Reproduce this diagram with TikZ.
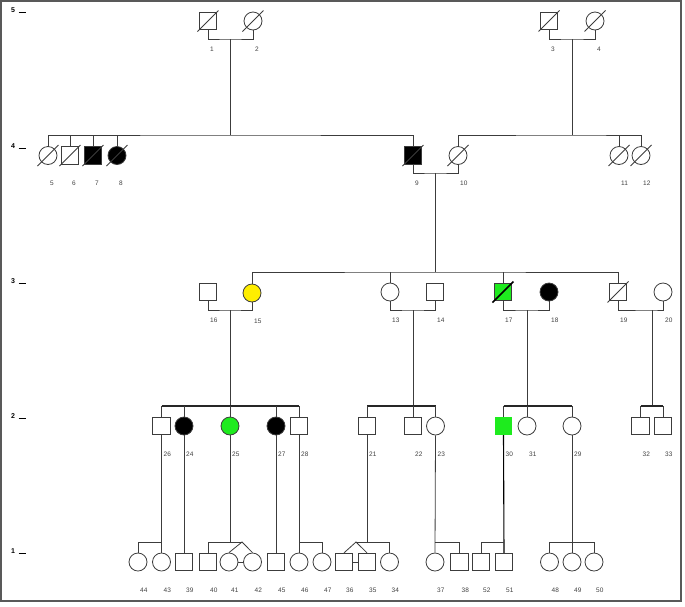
\documentclass[tikz,border=0pt]{standalone}
\usepackage{fontspec}
\setmainfont{Liberation Sans}
\usetikzlibrary{calc,positioning}
\definecolor{pedyellow}{RGB}{255,238,0}
\definecolor{pedgreen}{RGB}{30,235,30}
\definecolor{pedline}{RGB}{60,60,60}

\begin{document}
\begin{tikzpicture}[
    x=1pt, y=-1pt,
    male/.style={rectangle, draw=pedline, line width=0.8pt, minimum size=17.5pt, inner sep=0pt},
    female/.style={circle, draw=pedline, line width=0.8pt, minimum size=18pt, inner sep=0pt},
    affected/.style={fill=black},
    rel/.style={draw=pedline, line width=0.8pt},
    sib/.style={draw=black!85, line width=1.3pt},
    lbl/.style={anchor=west, inner sep=0pt, font=\fontsize{6.5}{7}\selectfont, text=black!75},
    genlbl/.style={anchor=base west, inner sep=0pt, font=\fontsize{7}{8}\selectfont\bfseries}
]
\useasboundingbox (0,0) rectangle (685,606);
\draw[black!65, line width=1.5pt] (1,1) rectangle (681,601);

% Generation markers
\foreach \g/\y in {5/12.5,4/148,3/283,2/418,1/553}
  \node[genlbl] (gen\g) at (11,\y) {\g\hspace{3.5pt}\rule{7pt}{0.5pt}};

% Generation V
\node[male] (n1) at (208,21) {};
\node[female] (n2) at (253,21) {};
\node[male] (n3) at (549,21) {};
\node[female] (n4) at (595,21) {};

% Generation IV
\node[female] (n5) at (48,155.5) {};
\node[male] (n6) at (70,155.5) {};
\node[male, affected] (n7) at (93,155.5) {};
\node[female, affected] (n8) at (117,155.5) {};
\node[male, affected] (n9) at (413,155.5) {};
\node[female] (n10) at (458,155.5) {};
\node[female] (n11) at (619,155.5) {};
\node[female] (n12) at (641,155.5) {};

% Generation III
\node[male] (n16) at (208,292) {};
\node[female, fill=pedyellow] (n15) at (252,293) {};
\node[female] (n13) at (390,292) {};
\node[male] (n14) at (435,292) {};
\node[male, fill=pedgreen] (n17) at (503,292) {};
\node[female, affected] (n18) at (549,292) {};
\node[male] (n19) at (618,292) {};
\node[female] (n20) at (663,292) {};

% Generation II
\node[male] (n26) at (161.5,426) {};
\node[female, affected] (n24) at (184,426) {};
\node[female, fill=pedgreen] (n25) at (230,426) {};
\node[female, affected] (n27) at (276,426) {};
\node[male] (n28) at (299,426) {};
\node[male] (n21) at (367,426) {};
\node[male] (n22) at (413,426) {};
\node[female] (n23) at (435.5,426) {};
\node[male, fill=pedgreen, draw=none] (n30) at (503.5,426) {};
\node[female] (n31) at (527,426) {};
\node[female] (n29) at (572,426) {};
\node[male] (n32) at (640.5,426) {};
\node[male] (n33) at (663,426) {};

% Generation I
\node[female] (n44) at (138,562) {};
\node[female] (n43) at (161.5,562) {};
\node[male] (n39) at (184,562) {};
\node[male] (n40) at (208,562) {};
\node[female] (n41) at (229,562) {};
\node[female] (n42) at (252.5,562) {};
\node[male] (n45) at (276,562) {};
\node[female] (n46) at (299,562) {};
\node[female] (n47) at (322,562) {};
\node[male] (n36) at (344,562) {};
\node[male] (n35) at (367,562) {};
\node[female] (n34) at (389.5,562) {};
\node[female] (n37) at (435,562) {};
\node[male] (n38) at (459.5,562) {};
\node[male] (n52) at (481,562) {};
\node[male] (n51) at (504,562) {};
\node[female] (n48) at (549.5,562) {};
\node[female] (n49) at (572,562) {};
\node[female] (n50) at (594,562) {};

% Numbers
\foreach \n in {1,...,52}
  \node[lbl] (lab\n) at ($(n\n)+(2,28)$) {\n};

% Deceased
\foreach \d in {n1,n2,n3,n4,n5,n6,n7,n8,n9,n10,n11,n12,n19}
  \draw[rel] ($(\d)+(-10.5,10.5)$) -- ($(\d)+(10.5,-10.5)$);
\draw[black, line width=1.6pt] ($(n17)+(-10.5,10.5)$) -- ($(n17)+(10.5,-10.5)$);

% Marriages
\coordinate (m1) at (230,39);
\coordinate (m3) at (572,39);
\coordinate (m9) at (435,173);
\coordinate (m16) at (230,310);
\coordinate (m13) at (413,310);
\coordinate (m17) at (527,310);
\coordinate (m19) at (652,310);
\draw[rel] (n1.south) |- (m1) -| (n2.south);
\draw[rel] (n3.south) |- (m3) -| (n4.south);
\draw[rel] (n9.south) |- (m9) -| (n10.south);
\draw[rel] (n16.south) |- (m16) -| (n15.south);
\draw[rel] (n13.south) |- (m13) -| (n14.south);
\draw[rel] (n17.south) |- (m17) -| (n18.south);
\draw[rel] (n19.south) |- (m19) -| (n20.south);

% Sibships, generation IV
\coordinate (s1) at (230,135);
\coordinate (s3) at (572,135);
\draw[rel] (m1) -- (s1);
\draw[rel] (n5.north) |- (s1) -| (n9.north);
\foreach \c in {n6,n7,n8}
  \draw[rel] (\c.north) -- (\c.north |- s1);
\draw[rel] (m3) -- (s3);
\draw[rel] (n10.north) |- (s3) -| (n12.north);
\draw[rel] (n11.north) -- (n11.north |- s3);

% Sibship, generation III
\coordinate (s9) at (435,272);
\draw[rel] (m9) -- (s9);
\draw[rel] (n15.north) |- (s9) -| (n19.north);
\foreach \c in {n13,n17}
  \draw[rel] (\c.north) -- (\c.north |- s9);

% Sibships, generation II
\coordinate (s16) at (230,406);
\coordinate (s13) at (413,406);
\coordinate (s17) at (527,406);
\coordinate (s19) at (652,406);
\draw[rel] (m16) -- (s16);
\draw[rel] (m13) -- (s13);
\draw[rel] (m17) -- (s17);
\draw[rel] (m19) -- (s19);
\draw[sib] (n26.north |- s16) -- (n28.north |- s16);
\draw[sib] (n21.north |- s13) -- (n23.north |- s13);
\draw[sib] (n30.north |- s17) -- (n29.north |- s17);
\draw[sib] (n32.north |- s19) -- (n33.north |- s19);
\foreach \c/\s in {n26/s16,n24/s16,n25/s16,n27/s16,n28/s16,n21/s13,n22/s13,n23/s13,n30/s17,n31/s17,n29/s17,n32/s19,n33/s19}
  \draw[rel] (\c.north) -- (\c.north |- \s);

% Sibships, generation I
\coordinate (s26) at (161.5,542);
\coordinate (t41) at (242,542);
\coordinate (s28) at (299,542);
\coordinate (t35) at (356,542);
\coordinate (s21) at (367,542);
\coordinate (s23) at (435,542);
\coordinate (s30) at (504,542);
\coordinate (s29) at (572,542);
\draw[rel] (n26.south) -- (n43.north);
\draw[rel] (n44.north) |- (s26);
\draw[rel] (n24.south) -- (n39.north);
\draw[rel] (n25.south) -- (n25.south |- t41);
\draw[rel] (n40.north) |- (t41);
\draw[rel] (n41.north) -- (t41) -- (n42.north);
\draw[rel] (n41.east) -- (n42.west);
\draw[rel] (n27.south) -- (n45.north);
\draw[rel] (n28.south) -- (n46.north);
\draw[rel] (n47.north) |- (s28);
\draw[rel] (n21.south) -- (s21);
\draw[rel] (n36.north) -- (t35) -- (n35.north);
\draw[rel] (t35) -| (n34.north);
\draw[rel] (n36.east) -- (n35.west);
\draw[rel] (n23.south) -- (n37.north);
\draw[rel] (n38.north) |- (s23);
\draw[black, line width=1.1pt] (n30.south) -- (n51.north);
\draw[rel] (n52.north) |- (s30);
\draw[rel] (n29.south) -- (n49.north);
\draw[rel] (n48.north) |- (s29) -| (n50.north);

\end{tikzpicture}
\end{document}
